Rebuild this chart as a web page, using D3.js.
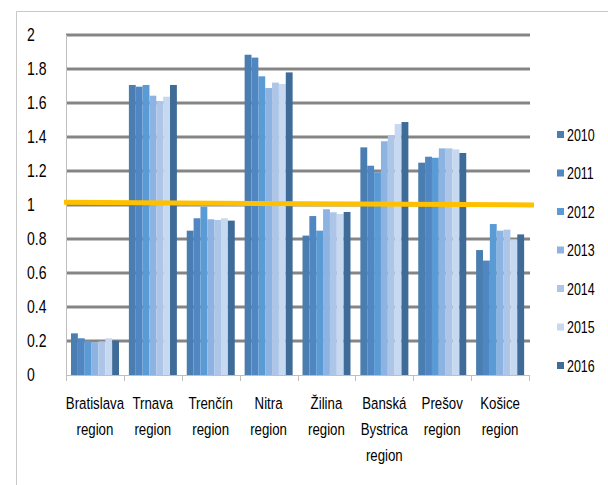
<!DOCTYPE html>
<html>
  <head>
    <meta charset="utf-8" />
    <script src="https://cdn.jsdelivr.net/npm/d3@7"></script>
    <style>
        body { margin: 0; background: #fff; }
        text { font-family: "Liberation Sans", Arial, sans-serif; fill: #000; }
    </style>
  </head>
  <body>
    <svg width="608" height="485"></svg>

    <script type="text/javascript">
        var regions = [
            ["Bratislava", "region"],
            ["Trnava", "region"],
            ["Trenčín", "region"],
            ["Nitra", "region"],
            ["Žilina", "region"],
            ["Banská", "Bystrica", "region"],
            ["Prešov", "region"],
            ["Košice", "region"]
        ];
        var years = ["2010", "2011", "2012", "2013", "2014", "2015", "2016"];
        var yTicks = [0, 0.2, 0.4, 0.6, 0.8, 1, 1.2, 1.4, 1.6, 1.8, 2];

        // one array per region, values for 2010..2016
        var bratislava = [0.245, 0.216, 0.20, 0.192, 0.198, 0.216, 0.202];
        var trnava     = [1.706, 1.696, 1.706, 1.643, 1.61, 1.637, 1.706];
        var trencin    = [0.849, 0.922, 0.99, 0.916, 0.912, 0.922, 0.908];
        var nitra      = [1.884, 1.867, 1.757, 1.688, 1.72, 1.712, 1.78];
        var zilina     = [0.82, 0.935, 0.849, 0.975, 0.957, 0.947, 0.959];
        var banska     = [1.339, 1.231, 1.192, 1.375, 1.408, 1.476, 1.488];
        var presov     = [1.249, 1.284, 1.278, 1.333, 1.333, 1.327, 1.306];
        var kosice     = [0.735, 0.673, 0.888, 0.849, 0.855, 0.798, 0.827];
        var values = [bratislava, trnava, trencin, nitra, zilina, banska, presov, kosice];

        // reference line (slightly tilted in the original)
        var refLine = [1.016, 1.0];

        var colors = ["#4a7eb1", "#5086c1", "#5b9bd5", "#8db3e2", "#adc6e8", "#c6d9f0", "#3e6b98"];

        var mLeft = 66, mRight = 529, mTop = 35, mBottom = 375;
        var squeeze = 0.78; // narrow the font to look like the original's condensed face

        var svg = d3.select("svg");

        // chart border
        svg.append("path")
            .attr("d", "M16.5,485 V11.5 H608")
            .attr("fill", "none")
            .attr("stroke", "#c8c8c8")
            .attr("stroke-width", 1);

        var x0 = d3.scaleBand()
            .domain(d3.range(regions.length))
            .range([mLeft, mRight]);

        var x1 = d3.scaleBand()
            .domain(years)
            .range([0, 48]);

        var y = d3.scaleLinear()
            .domain([0, 2])
            .range([mBottom, mTop]);

        // gridlines
        svg.append("g")
            .selectAll("line")
            .data(yTicks.filter(function(d){ return d > 0; }))
            .enter()
            .append("line")
            .attr("x1", mLeft)
            .attr("x2", mRight + 1)
            .attr("y1", function(d){ return y(d); })
            .attr("y2", function(d){ return y(d); })
            .attr("stroke", "#858585")
            .attr("stroke-width", 3);

        // y labels
        svg.append("g")
            .selectAll("text")
            .data(yTicks)
            .enter()
            .append("text")
            .attr("transform", function(d){ return "translate(27," + y(d) + ") scale(" + squeeze + ",1)"; })
            .attr("dy", "0.35em")
            .attr("font-size", 18)
            .text(function(d){ return d; });

        // bars
        var groups = svg.append("g")
            .selectAll("g")
            .data(values)
            .enter()
            .append("g")
            .attr("transform", function(d, i){ return "translate(" + (x0(i) + 5) + ",0)"; });

        groups.selectAll("rect")
            .data(function(d){ return d; })
            .enter()
            .append("rect")
            .attr("x", function(d, i){ return x1(years[i]); })
            .attr("width", x1.bandwidth())
            .attr("y", function(d){ return y(d); })
            .attr("height", function(d){ return y(0) - y(d); })
            .attr("fill", function(d, i){ return colors[i]; });

        // axes lines
        svg.append("line")
            .attr("x1", mLeft + 0.5).attr("x2", mLeft + 0.5)
            .attr("y1", mTop).attr("y2", mBottom)
            .attr("stroke", "#bfbfbf");

        svg.append("line")
            .attr("x1", mLeft).attr("x2", mRight + 1)
            .attr("y1", mBottom + 0.5).attr("y2", mBottom + 0.5)
            .attr("stroke", "#bfbfbf");

        svg.append("g")
            .selectAll("line")
            .data(d3.range(regions.length + 1))
            .enter()
            .append("line")
            .attr("x1", function(d){ return Math.round(mLeft + d * x0.step()) + 0.5; })
            .attr("x2", function(d){ return Math.round(mLeft + d * x0.step()) + 0.5; })
            .attr("y1", mBottom)
            .attr("y2", mBottom + 6)
            .attr("stroke", "#bfbfbf");

        // x labels
        var xl = svg.append("g")
            .selectAll("text")
            .data(regions)
            .enter()
            .append("text")
            .attr("text-anchor", "middle")
            .attr("font-size", 17)
            .attr("transform", function(d, i){
                return "translate(" + (x0(i) + x0.bandwidth() / 2) + ",409) scale(" + squeeze + ",1)";
            });

        xl.selectAll("tspan")
            .data(function(d){ return d; })
            .enter()
            .append("tspan")
            .attr("x", 0)
            .attr("y", function(d, i){ return i * 26; })
            .text(function(d){ return d; });

        // orange reference line
        svg.append("line")
            .attr("x1", 64)
            .attr("x2", 534)
            .attr("y1", y(refLine[0]))
            .attr("y2", y(refLine[1]))
            .attr("stroke", "#ffc000")
            .attr("stroke-width", 5);

        // legend
        var legend = svg.append("g")
            .selectAll("g")
            .data(years)
            .enter()
            .append("g")
            .attr("transform", function(d, i){ return "translate(557," + (135 + i * 38.5) + ")"; });

        legend.append("rect")
            .attr("x", 0).attr("y", -4)
            .attr("width", 7).attr("height", 7)
            .attr("fill", function(d, i){ return colors[i]; });

        legend.append("text")
            .attr("transform", "translate(10,0) scale(" + squeeze + ",1)")
            .attr("dy", "0.35em")
            .attr("font-size", 16)
            .text(function(d){ return d; });
    </script>
  </body>
</html>
